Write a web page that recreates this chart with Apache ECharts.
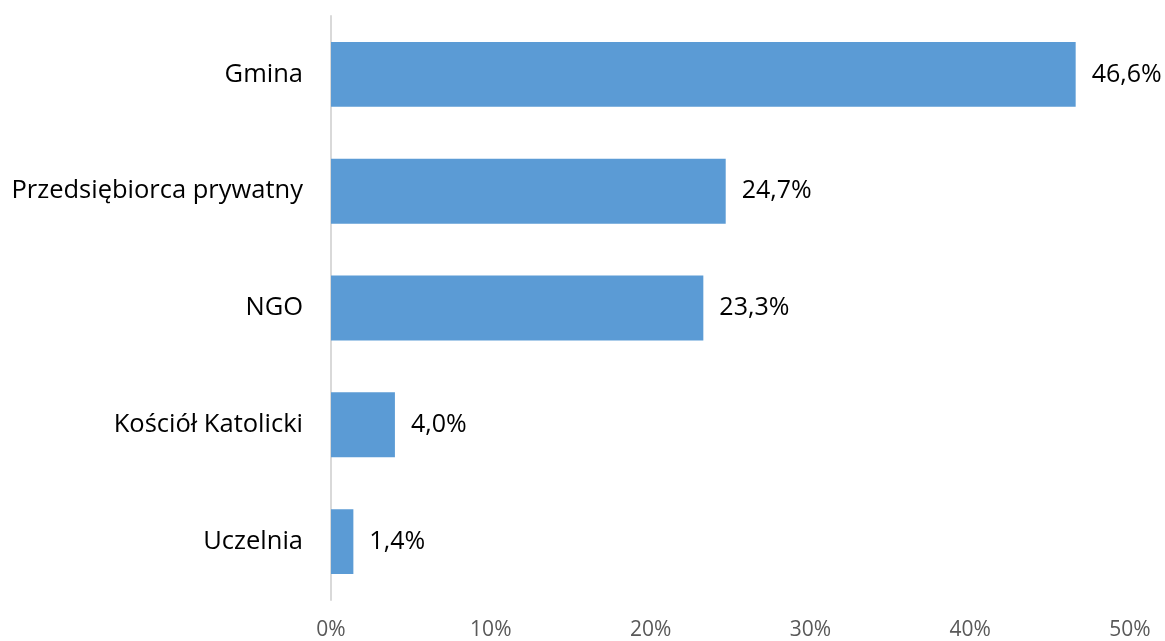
<!DOCTYPE html>
<html><head><meta charset="utf-8">
<script src="https://cdn.jsdelivr.net/npm/echarts@6/dist/echarts.min.js"></script>
<style>html,body{margin:0;padding:0;background:#fff}#c{width:1165px;height:641px}</style>
</head><body><div id="c"></div>
<script>
var categories = ['Gmina', 'Przedsiębiorca prywatny', 'NGO', 'Kościół Katolicki', 'Uczelnia'];
var values = [46.6, 24.7, 23.3, 4.0, 1.4];
var chart = echarts.init(document.getElementById('c'));
chart.setOption({
  animation: false,
  grid: {left: 331, right: 35, top: 16, bottom: 39, containLabel: false},
  xAxis: {
    type: 'value', min: 0, max: 50, interval: 10,
    axisLine: {show: false}, axisTick: {show: false}, splitLine: {show: false},
    axisLabel: {formatter: '{value}%', color: '#595959', fontSize: 21, fontFamily: 'Open Sans', margin: 20}
  },
  yAxis: {
    type: 'category', data: categories, inverse: true,
    axisLine: {show: true, lineStyle: {color: '#d9d9d9', width: 2}},
    axisTick: {show: false},
    axisLabel: {color: '#000', fontSize: 25.5, fontFamily: 'Open Sans', margin: 28}
  },
  series: [{
    type: 'bar', data: values, barWidth: '55.6%',
    itemStyle: {color: '#5b9bd5'},
    label: {show: true, position: 'right', distance: 16, color: '#000', fontSize: 25, fontFamily: 'Open Sans',
      formatter: function(p){ return p.value.toFixed(1).replace('.', ',') + '%'; }}
  }]
});
</script></body></html>
